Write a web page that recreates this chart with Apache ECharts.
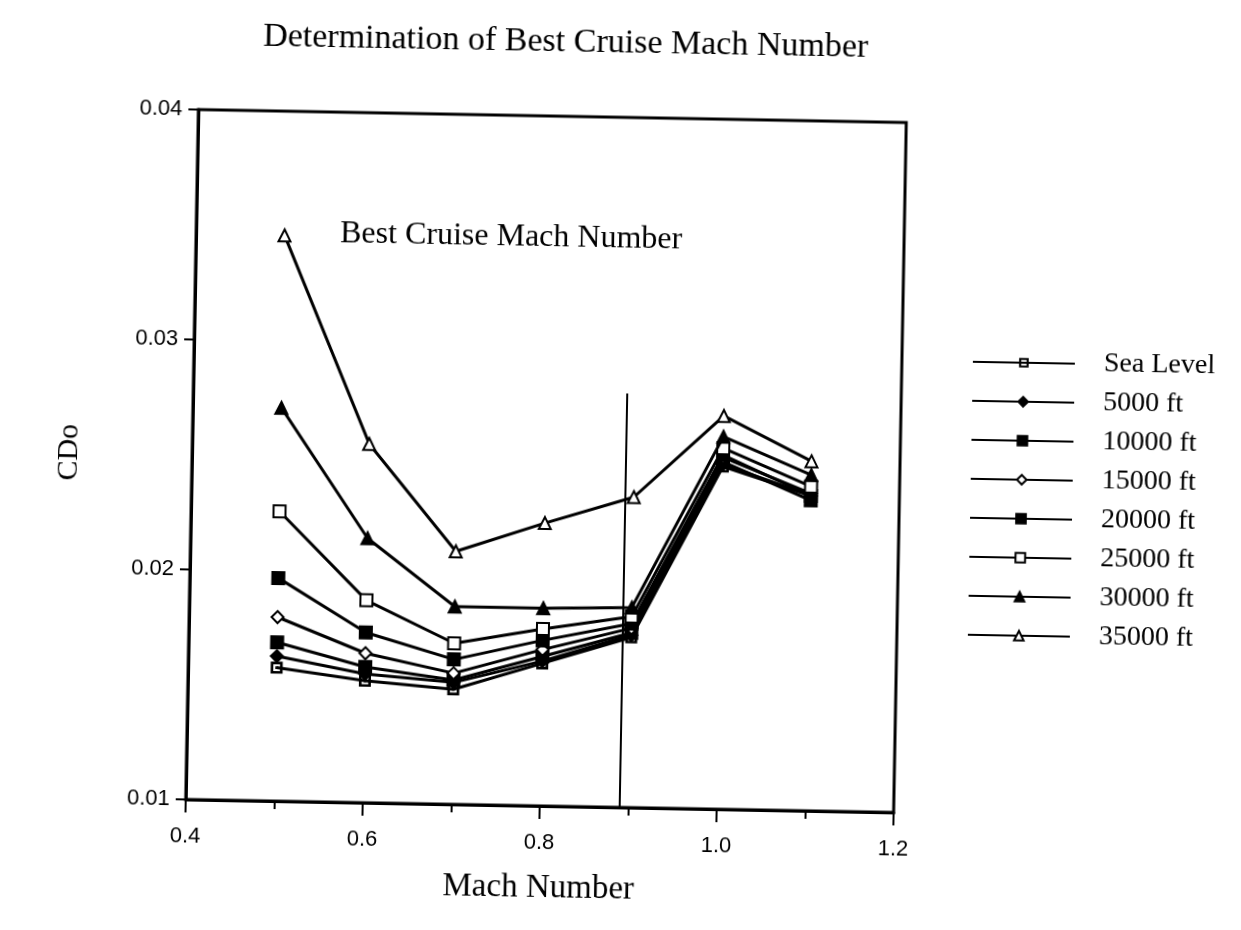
<!DOCTYPE html>
<html>
<head>
<meta charset="utf-8">
<script src="https://cdn.jsdelivr.net/npm/echarts@6/dist/echarts.min.js"></script>
<style>
  html, body { margin: 0; padding: 0; background: #fff; }
  #chart { width: 1241px; height: 930px; transform: rotate(1.05deg); transform-origin: 546px 461px; }
</style>
</head>
<body>
<div id="chart"></div>
<script>
// Mach numbers tested
const mach = [0.5, 0.6, 0.7, 0.8, 0.9, 1.0, 1.1];

// Zero-lift drag coefficient CDo at each altitude
const seaLevel = [0.0158, 0.0153, 0.0150, 0.0162, 0.0174, 0.0249, 0.0237];
const ft5000   = [0.0163, 0.0156, 0.0153, 0.0163, 0.0175, 0.0250, 0.0237];
const ft10000  = [0.0169, 0.0159, 0.0154, 0.0165, 0.0176, 0.0251, 0.0235];
const ft15000  = [0.0180, 0.0165, 0.0157, 0.0168, 0.0178, 0.0253, 0.0238];
const ft20000  = [0.0197, 0.0174, 0.0163, 0.0172, 0.0180, 0.0254, 0.0237];
const ft25000  = [0.0226, 0.0188, 0.0170, 0.0177, 0.0183, 0.0257, 0.0241];
const ft30000  = [0.0271, 0.0215, 0.0186, 0.0186, 0.0187, 0.0262, 0.0246];
const ft35000  = [0.0346, 0.0256, 0.0210, 0.0223, 0.0235, 0.0271, 0.0252];

const seriesNames = ['Sea Level', '5000 ft', '10000 ft', '15000 ft', '20000 ft', '25000 ft', '30000 ft', '35000 ft'];
const seriesValues = [seaLevel, ft5000, ft10000, ft15000, ft20000, ft25000, ft30000, ft35000];

// Best cruise Mach marker line
const bestCruiseMach = 0.89;
const bestCruiseLineTop = 0.028;

// Tick label formats
const xTickDigits = 1;
const yTickDigits = 2;

// open square with a dot in the middle (outline drawn by the path itself)
const dottedSquare = 'path://M0 0H10V10H0Z M2.2 2.2V7.8H7.8V2.2Z M3.9 3.9H6.1V6.1H3.9Z';
const symbols = [dottedSquare, 'diamond', 'rect', 'emptyDiamond', 'rect', 'emptyRect', 'triangle', 'emptyTriangle'];

const serif = '"Liberation Serif", "DejaVu Serif", serif';
const sans = '"Liberation Sans", Arial, sans-serif';

const series = seriesNames.map((name, i) => ({
  name: name,
  type: 'line',
  data: mach.map((m, j) => [m, seriesValues[i][j]]),
  symbol: symbols[i],
  symbolSize: 12,
  showAllSymbol: true,
  lineStyle: { color: '#000', width: 3 },
  itemStyle: { color: '#000', borderColor: '#000', borderWidth: i === 0 ? 0 : 2 },
  z: 3 + i
}));

series.push({
  name: 'bestCruise',
  type: 'line',
  data: [],
  markLine: {
    silent: true,
    symbol: ['none', 'none'],
    label: { show: false },
    lineStyle: { color: '#000', width: 2, type: 'solid' },
    data: [[{ coord: [bestCruiseMach, 0.01] }, { coord: [bestCruiseMach, bestCruiseLineTop] }]]
  }
});

const chart = echarts.init(document.getElementById('chart'), null, { renderer: 'canvas' });
chart.setOption({
  backgroundColor: '#fff',
  animation: false,
  title: {
    text: 'Determination of Best Cruise Mach Number',
    left: 553, top: 20, textAlign: 'center',
    textStyle: { fontFamily: serif, fontSize: 34, fontWeight: 'normal', color: '#000' }
  },
  grid: {
    left: 192, right: 341, top: 116, bottom: 124,
    show: true, borderColor: '#000', borderWidth: 3
  },
  legend: {
    data: seriesNames,
    orient: 'vertical',
    left: 965, top: 334,
    itemWidth: 102, itemHeight: 12,
    itemGap: 9,
    textStyle: { fontFamily: serif, fontSize: 28, color: '#000', lineHeight: 30, padding: [0, 0, 0, 24] }
  },
  xAxis: {
    type: 'value', min: 0.4, max: 1.2, interval: 0.2,
    name: 'Mach Number', nameLocation: 'middle', nameGap: 66,
    nameTextStyle: { fontFamily: serif, fontSize: 33, color: '#000' },
    axisLine: { lineStyle: { color: '#000', width: 3 } },
    axisTick: { show: true, length: 13, lineStyle: { color: '#000', width: 2 } },
    minorTick: { show: true, splitNumber: 2, length: 8, lineStyle: { color: '#000', width: 2 } },
    splitLine: { show: false },
    axisLabel: {
      margin: 26, fontFamily: sans, fontSize: 22, color: '#000',
      formatter: v => v.toFixed(xTickDigits)
    }
  },
  yAxis: {
    type: 'value', min: 0.01, max: 0.04, interval: 0.01,
    name: 'CDo', nameLocation: 'middle', nameGap: 108, nameRotate: 90,
    nameTextStyle: { fontFamily: serif, fontSize: 30, color: '#000' },
    axisLine: { show: true, lineStyle: { color: '#000', width: 3 } },
    axisTick: { show: true, length: 10, lineStyle: { color: '#000', width: 2 } },
    splitLine: { show: false },
    axisLabel: {
      margin: 16, fontFamily: sans, fontSize: 22, color: '#000',
      formatter: v => v.toFixed(yTickDigits)
    }
  },
  graphic: [{
    type: 'text',
    left: 336, top: 222,
    style: { text: 'Best Cruise Mach Number', font: '32px ' + serif, fill: '#000' }
  }],
  series: series
});
</script>
</body>
</html>
